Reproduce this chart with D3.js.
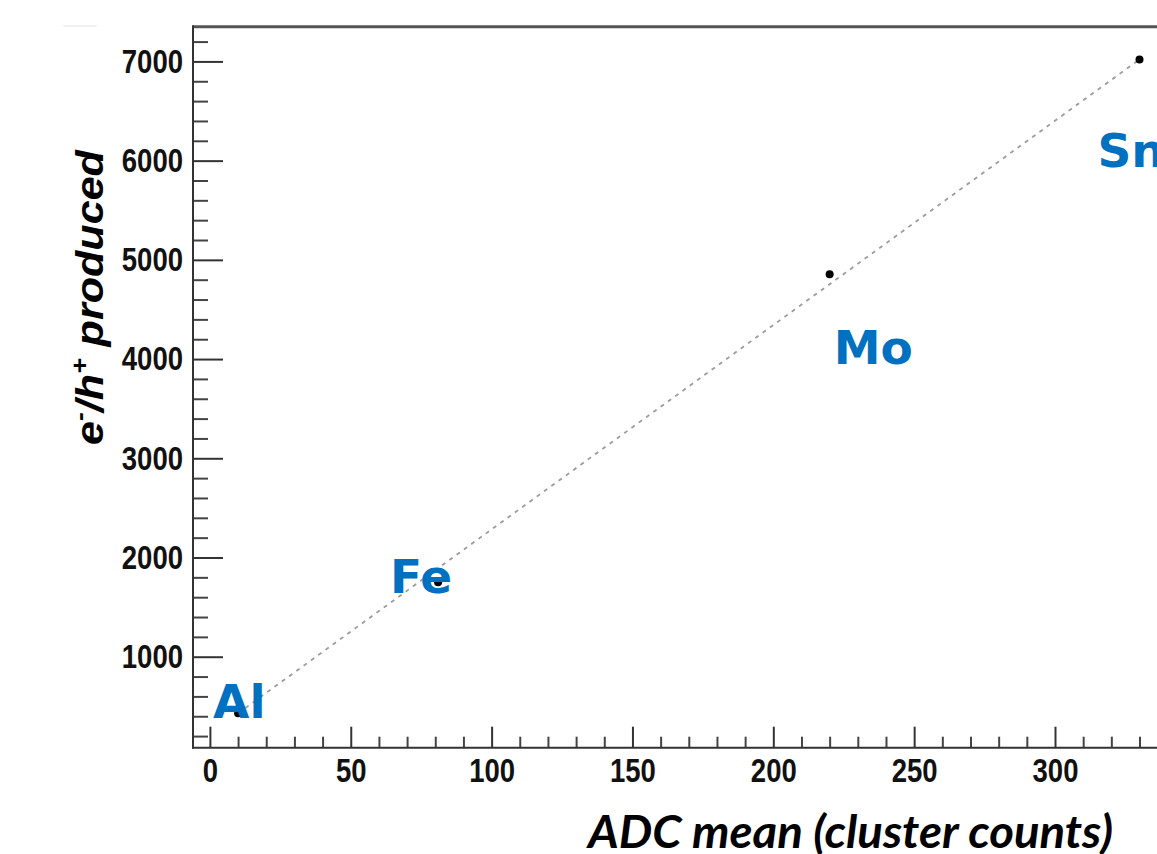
<!DOCTYPE html>
<html>
<head>
<meta charset="utf-8">
<script src="https://cdn.jsdelivr.net/npm/d3@7"></script>
<style>
  body { margin: 0; background: #fff; }
  svg { display: block; }
</style>
</head>
<body>
<div id="chart"></div>
<script>
// measured points (ADC mean vs e-/h+ pairs)
var elements = ["Al", "Fe", "Mo", "Sn"];
var adcMean = [10, 81, 220, 330];
var pairs = [430, 1750, 4855, 7020];

// dashed linear fit, end points
var fitX = [10, 330];
var fitY = [430, 7020];

var yMajor = [1000, 2000, 3000, 4000, 5000, 6000, 7000];
var xMajor = [0, 50, 100, 150, 200, 250, 300];

var width = 1157, height = 854;
var plotLeft = 193, plotTop = 26.7, plotBottom = 747.7;

var svg = d3.select("#chart")
  .append("svg")
    .attr("width", width)
    .attr("height", height);

var x = d3.scaleLinear()
  .domain([-6, 355])
  .range([plotLeft, plotLeft + 361 * 2.817]);

var y = d3.scaleLinear()
  .domain([83, 7350])
  .range([plotBottom, plotTop]);

var yMinor = d3.range(200, 7400, 200).filter(function(d) { return d % 1000 != 0 });
var xMinor = d3.range(0, 360, 10).filter(function(d) { return d % 50 != 0 });

// faint stray line top-left
svg.append("line")
  .attr("x1", 63).attr("x2", 97).attr("y1", 26).attr("y2", 26)
  .attr("stroke", "#e3e3e3").attr("stroke-width", 1);

// minor ticks
svg.append("g")
  .attr("transform", "translate(" + plotLeft + ",0)")
  .call(d3.axisLeft(y).tickValues(yMinor).tickSize(-15).tickSizeOuter(0).tickFormat(""))
  .call(function(g) { g.select(".domain").remove() })
  .selectAll("line").attr("stroke", "#444").attr("stroke-width", 2);

svg.append("g")
  .attr("transform", "translate(0," + plotBottom + ")")
  .call(d3.axisBottom(x).tickValues(xMinor).tickSize(-11).tickSizeOuter(0).tickFormat(""))
  .call(function(g) { g.select(".domain").remove() })
  .selectAll("line").attr("stroke", "#444").attr("stroke-width", 2);

// major ticks + labels
var yAxis = svg.append("g")
  .attr("transform", "translate(" + plotLeft + ",0)")
  .call(d3.axisLeft(y).tickValues(yMajor).tickSize(-30).tickSizeOuter(0).tickPadding(10).tickFormat(d3.format("d")))
  .call(function(g) { g.select(".domain").remove() });
yAxis.selectAll("line").attr("stroke", "#333").attr("stroke-width", 2);
yAxis.selectAll("text")
  .attr("fill", "#111")
  .style("font-family", "'Liberation Sans', Arial, sans-serif")
  .style("font-weight", "bold")
  .style("font-size", "34px")
  .attr("textLength", function(d) { return String(d).length * 15.3 })
  .attr("lengthAdjust", "spacingAndGlyphs");

var xAxis = svg.append("g")
  .attr("transform", "translate(0," + plotBottom + ")")
  .call(d3.axisBottom(x).tickValues(xMajor).tickSize(-21).tickSizeOuter(0).tickPadding(10))
  .call(function(g) { g.select(".domain").remove() });
xAxis.selectAll("line").attr("stroke", "#333").attr("stroke-width", 2);
xAxis.selectAll("text")
  .attr("fill", "#111")
  .style("font-family", "'Liberation Sans', Arial, sans-serif")
  .style("font-weight", "bold")
  .style("font-size", "34px")
  .attr("textLength", function(d) { return String(d).length * 15.3 })
  .attr("lengthAdjust", "spacingAndGlyphs");

// frame
svg.append("line")
  .attr("x1", plotLeft).attr("x2", width + 10).attr("y1", plotTop).attr("y2", plotTop)
  .attr("stroke", "#555").attr("stroke-width", 3);
svg.append("line")
  .attr("x1", plotLeft).attr("x2", plotLeft).attr("y1", plotTop - 1.5).attr("y2", plotBottom + 1)
  .attr("stroke", "#333").attr("stroke-width", 2);
svg.append("line")
  .attr("x1", plotLeft - 1).attr("x2", width + 10).attr("y1", plotBottom).attr("y2", plotBottom)
  .attr("stroke", "#333").attr("stroke-width", 2);

// fit line
var fitData = fitX.map(function(d, i) { return {x: d, y: fitY[i]} });
svg.append("path")
  .datum(fitData)
  .attr("fill", "none")
  .attr("stroke", "#9c9c9c")
  .attr("stroke-width", 1.8)
  .attr("stroke-dasharray", "4,5")
  .attr("d", d3.line()
    .x(function(d) { return x(d.x) })
    .y(function(d) { return y(d.y) })
  );

// points
svg.selectAll(".pt")
  .data(adcMean)
  .enter().append("circle")
    .attr("class", "pt")
    .attr("cx", function(d) { return x(d) })
    .attr("cy", function(d, i) { return y(pairs[i]) })
    .attr("r", 4)
    .attr("fill", "#000");

// element labels, offset from their point
var labelOffset = [[-25, 5], [-48, 11], [4, 90], [-42, 108]];
svg.selectAll(".lab")
  .data(elements)
  .enter().append("text")
    .attr("class", "lab")
    .attr("x", function(d, i) { return x(adcMean[i]) + labelOffset[i][0] })
    .attr("y", function(d, i) { return y(pairs[i]) + labelOffset[i][1] })
    .attr("fill", "#0070C0")
    .style("font-family", "'DejaVu Sans', Verdana, sans-serif")
    .style("font-weight", "bold")
    .style("font-size", "47px")
    .text(function(d) { return d });

// x title
svg.append("text")
  .attr("x", 588)
  .attr("y", 848)
  .style("font-family", "Lato, 'Open Sans', sans-serif")
  .style("font-weight", "bold")
  .style("font-style", "italic")
  .style("font-size", "46px")
  .attr("fill", "#000")
  .attr("textLength", 525)
  .attr("lengthAdjust", "spacingAndGlyphs")
  .text("ADC mean (cluster counts)");

// y title
var yTitle = svg.append("text")
  .attr("text-anchor", "middle")
  .style("font-family", "'Liberation Sans', Arial, sans-serif")
  .style("font-weight", "bold")
  .style("font-style", "italic")
  .style("font-size", "39px")
  .attr("fill", "#000");
yTitle.append("tspan").text("e");
yTitle.append("tspan").attr("dy", -15).style("font-size", "24px").text("-");
yTitle.append("tspan").attr("dy", 15).text("/h");
yTitle.append("tspan").attr("dy", -15).style("font-size", "24px").text("+");
yTitle.append("tspan").attr("dy", 15).text(" produced");
var tw = yTitle.node().getComputedTextLength();
yTitle.attr("transform", "translate(103,297.5) rotate(-90) scale(" + (295 / tw) + ",1)");
</script>
</body>
</html>
